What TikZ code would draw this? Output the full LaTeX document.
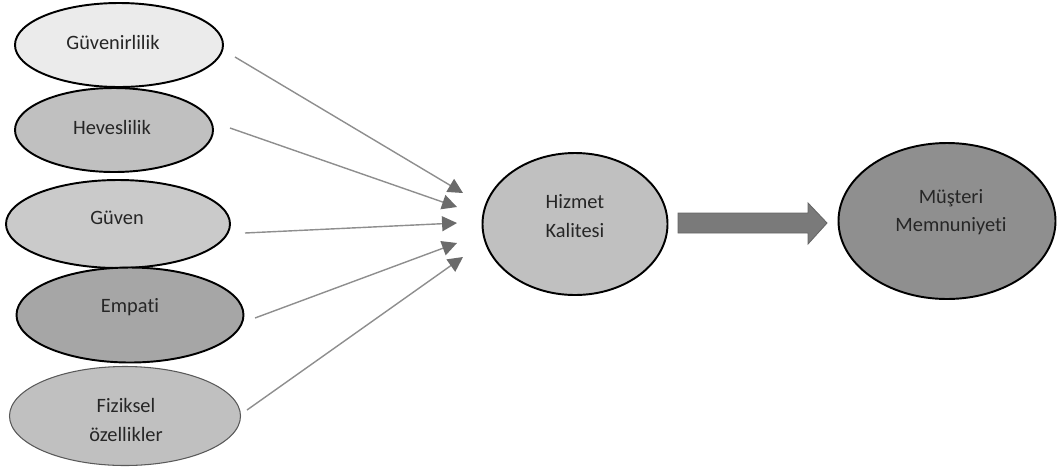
\documentclass[tikz,border=0pt]{standalone}
\usepackage{fontspec}
\setmainfont{Carlito}[Ligatures={NoCommon,NoContextual}]
\usetikzlibrary{arrows.meta,shapes.geometric}

\definecolor{lightfill}{HTML}{EBEBEB}
\definecolor{midfill}{HTML}{C0C0C0}
\definecolor{palefill}{HTML}{CACACA}
\definecolor{darkfill}{HTML}{A6A6A6}
\definecolor{deepfill}{HTML}{8F8F8F}
\definecolor{linegray}{HTML}{8E8E8E}
\definecolor{headgray}{HTML}{6B6B6B}
\definecolor{blockgray}{HTML}{7A7A7A}

\tikzset{
  oval/.style={ellipse, draw=black, line width=1.1pt, inner sep=0pt},
  txt/.style={align=center, text=black!85, font=\fontsize{11.6}{16}\selectfont},
  feed/.style={draw=linegray, line width=0.8pt,
    -{Triangle[length=8.5pt,width=8.5pt,fill=headgray,color=headgray]}}
}

\begin{document}
\begin{tikzpicture}[x=0.02cm, y=-0.02cm]

  \useasboundingbox (0,0) rectangle (1057,471);

  % Dimensions
  \node[oval, fill=lightfill, minimum width=208*0.02cm, minimum height=84*0.02cm] (guvenirlilik) at (119,45) {};
  \node[oval, fill=midfill, minimum width=198*0.02cm, minimum height=84*0.02cm] (heveslilik) at (114,130) {};
  \node[oval, fill=palefill, minimum width=224*0.02cm, minimum height=88*0.02cm] (guven) at (118,224) {};
  \node[oval, fill=darkfill, minimum width=227*0.02cm, minimum height=95*0.02cm] (empati) at (130,315) {};
  \node[oval, fill=midfill, draw=black!65, line width=0.6pt,
        minimum width=231*0.02cm, minimum height=99*0.02cm] (fiziksel) at (125,416) {};

  % Centre and right
  \node[oval, fill=midfill, minimum width=185*0.02cm, minimum height=142*0.02cm] (hizmet) at (575,224) {};
  \node[oval, fill=deepfill, minimum width=217*0.02cm, minimum height=156*0.02cm] (musteri) at (947,221) {};

  % Labels
  \node[txt] (tguvenirlilik) at (113,42) {Güvenirlilik};
  \node[txt] (theveslilik) at (112,127) {Heveslilik};
  \node[txt] (tguven) at (117,218) {Güven};
  \node[txt] (tempati) at (130,307) {Empati};
  \node[txt] (tfiziksel) at (126,420) {Fiziksel\\özellikler};
  \node[txt] (thizmet) at (575,216) {Hizmet\\Kalitesi};
  \node[txt] (tmusteri) at (951,212) {Müşteri\\Memnuniyeti};

  % Arrow ends
  \coordinate (s1) at (235,57);   \coordinate (e1) at (463,193);
  \coordinate (s2) at (230,128);  \coordinate (e2) at (457,207);
  \coordinate (s3) at (245,233);  \coordinate (e3) at (457,223);
  \coordinate (s4) at (255,318);  \coordinate (e4) at (457,243);
  \coordinate (s5) at (247,410);  \coordinate (e5) at (463,257);

  \draw[feed] (s1) -- (e1);
  \draw[feed] (s2) -- (e2);
  \draw[feed] (s3) -- (e3);
  \draw[feed] (s4) -- (e4);
  \draw[feed] (s5) -- (e5);

  % Block arrow
  \coordinate (ba) at (678,223);
  \coordinate (bb) at (827,223);
  \draw[fill=blockgray, draw=black!60, line width=0.5pt]
    ([yshift=10*0.02cm]ba) -- ([xshift=-19*0.02cm, yshift=10*0.02cm]bb)
    -- ([xshift=-19*0.02cm, yshift=20*0.02cm]bb) -- (bb)
    -- ([xshift=-19*0.02cm, yshift=-21*0.02cm]bb)
    -- ([xshift=-19*0.02cm, yshift=-10*0.02cm]bb) -- ([yshift=-10*0.02cm]ba) -- cycle;

\end{tikzpicture}
\end{document}
